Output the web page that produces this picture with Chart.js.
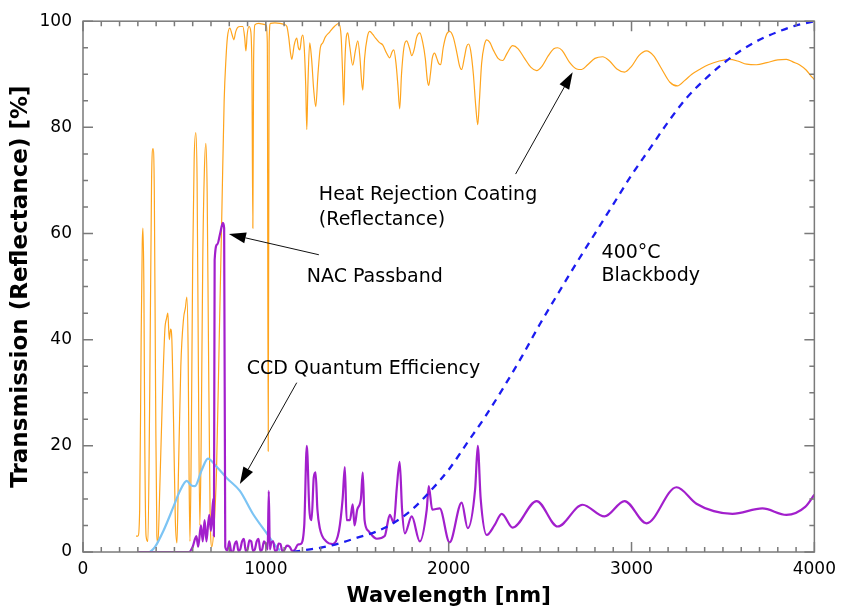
<!DOCTYPE html>
<html>
<head>
<meta charset="utf-8">
<script src="https://cdn.jsdelivr.net/npm/chart.js@4.4.1/dist/chart.umd.min.js"></script>
<style>
  html, body { margin: 0; padding: 0; background: #fff; }
  canvas { display: block; }
</style>
</head>
<body>
<canvas id="chart" width="843" height="614"></canvas>
<script>
// Axes
const xTicks = [0, 1000, 2000, 3000, 4000];
const yTicks = [0, 20, 40, 60, 80, 100];

// Heat rejection coating reflectance [nm, %]
const coating = [
  [290, 3], [300, 3], [310, 8], [318, 40], [324, 58], [328, 61], [333, 50], [338, 20], [345, 3],
  [355, 2], [365, 30], [375, 70], [383, 76], [390, 68], [397, 30], [404, 3], [410, 1.7],
  [420, 12], [435, 30], [448, 42], [457, 44], [464, 45], [472, 40], [479, 42], [486, 40],
  [495, 25], [505, 6], [514, 1.7], [522, 15], [535, 35], [550, 44], [560, 46], [568, 48],
  [575, 38], [580, 15], [585, 2], [592, 20], [600, 55], [608, 74], [617, 79], [624, 70],
  [631, 35], [639, 5], [646, 20], [655, 55], [664, 72], [672, 77], [679, 68], [686, 40],
  [695, 8], [705, 1], [715, 4], [730, 15], [745, 40], [760, 65], [772, 85], [782, 93],
  [790, 97], [803, 98.7], [815, 97.5], [825, 96.5], [835, 98], [845, 98.8], [860, 99],
  [874, 99], [884, 97], [891, 94.4], [898, 97.5], [908, 99], [918, 98], [924, 90], [929, 61],
  [933, 92], [940, 99.3], [960, 99.6], [978, 99.5], [1000, 99.3], [1008, 96], [1013, 19],
  [1018, 96], [1025, 99.6], [1050, 99.7], [1077, 99.6], [1100, 99.4], [1115, 99], [1125, 97],
  [1135, 94], [1142, 92.8], [1155, 95.5], [1169, 96.8], [1178, 95], [1186, 94.6], [1195, 96.8],
  [1202, 97.4], [1210, 95], [1218, 88], [1224, 79.6], [1230, 88], [1240, 95.9], [1250, 93],
  [1262, 87], [1273, 83.9], [1285, 90], [1298, 95], [1311, 95.9], [1325, 97], [1350, 98],
  [1375, 99], [1399, 99.6], [1412, 97], [1420, 90], [1426, 84.2], [1432, 92], [1440, 97],
  [1448, 97.8], [1460, 95], [1475, 91.7], [1490, 94.5], [1503, 96.3], [1515, 93], [1523, 89],
  [1530, 87], [1540, 93], [1555, 97], [1568, 98.1], [1585, 97.5], [1600, 96.8], [1620, 96],
  [1640, 95.5], [1660, 94], [1678, 93.1], [1690, 94.2], [1700, 94.6], [1712, 92], [1722, 88],
  [1732, 83.5], [1742, 90], [1755, 95], [1770, 96.3], [1785, 95], [1798, 93.5], [1810, 94.5],
  [1825, 97], [1842, 97.8], [1858, 96], [1872, 93], [1883, 89], [1891, 87.9], [1900, 90],
  [1910, 93], [1923, 94], [1935, 93], [1946, 92], [1956, 91.8], [1970, 95], [1988, 97.5],
  [2005, 98.1], [2025, 97], [2045, 94], [2060, 91.5], [2071, 90.9], [2085, 93], [2098, 95.2],
  [2109, 95.7], [2120, 94.5], [2135, 90], [2148, 84], [2159, 80.5], [2168, 85], [2180, 92],
  [2195, 95.5], [2208, 96.5], [2225, 96], [2245, 94.5], [2270, 93], [2295, 92.6], [2320, 94],
  [2350, 95.4], [2380, 94.8], [2415, 93], [2450, 91.3], [2481, 90.7], [2510, 91.5], [2545, 93.5],
  [2575, 94.8], [2596, 95], [2620, 94.5], [2660, 92.3], [2700, 91], [2727, 90.9], [2760, 91.8],
  [2800, 93], [2842, 93.3], [2880, 92.5], [2920, 91], [2962, 90.4], [3000, 91.5], [3040, 93.5],
  [3082, 94.4], [3120, 93.5], [3165, 91], [3210, 88.5], [3251, 87.8], [3290, 88.8], [3330, 90],
  [3372, 90.9], [3420, 91.8], [3480, 92.5], [3536, 92.8], [3580, 92.5], [3630, 91.9], [3683, 91.8],
  [3740, 92.2], [3800, 92.7], [3847, 92.8], [3885, 92.3], [3918, 91.8], [3955, 90.8], [3989, 89.4],
  [4000, 89]
];

// NAC passband transmission [nm, %]
const passband = [
  [300, 0], [580, 0], [600, 1], [620, 3], [630, 1], [645, 5], [655, 2], [665, 6], [675, 2],
  [690, 7], [700, 4], [712, 10], [716, 3], [720, 55], [735, 58], [750, 60], [765, 62], [772, 61],
  [778, 1], [790, 0.3], [800, 2], [810, 0.2], [820, 0], [830, 1.5], [840, 2], [850, 0.2],
  [860, 0.5], [870, 2], [880, 2.5], [890, 0.2], [900, 0.5], [910, 2.2], [920, 2], [930, 0.2],
  [940, 0.5], [950, 2], [960, 2.5], [970, 0.2], [980, 0.5], [990, 2], [1000, 1.5], [1010, 0.5],
  [1016, 11.5], [1022, 0.5], [1030, 1.8], [1040, 2], [1050, 0.2], [1060, 0.3], [1070, 1.6],
  [1080, 1.5], [1090, 0.2], [1100, 0.3], [1115, 1.2], [1130, 1], [1145, 0.2], [1160, 0.5],
  [1175, 1.4], [1190, 1.5], [1210, 5], [1224, 20], [1238, 8], [1250, 6], [1262, 14], [1272, 15],
  [1282, 8], [1295, 4.5], [1330, 2], [1366, 1.5], [1400, 4], [1420, 10], [1432, 16], [1442, 6],
  [1460, 6], [1475, 9], [1485, 5], [1500, 8], [1520, 10], [1530, 15], [1540, 6], [1560, 4],
  [1607, 2.5], [1650, 3], [1678, 7], [1700, 5.5], [1716, 12], [1732, 17], [1745, 8], [1760, 3.5],
  [1798, 6.7], [1842, 2], [1880, 8], [1891, 12.4], [1910, 8], [1951, 8.2], [2005, 1.8],
  [2071, 9.3], [2104, 4.5], [2145, 12], [2159, 20], [2175, 10], [2208, 3.2], [2250, 5],
  [2290, 7.2], [2350, 4.6], [2481, 9.6], [2596, 4.8], [2732, 8.9], [2852, 6.7], [2962, 9.6],
  [3082, 5.4], [3246, 12.2], [3355, 9.1], [3450, 7.7], [3552, 7.2], [3716, 8.2], [3847, 7],
  [3950, 8.5], [4000, 10.8]
];

// CCD quantum efficiency [nm, %]
const ccd = [
  [366, 0], [393, 0.9], [440, 4], [492, 8.3], [530, 11.5], [568, 13.4], [590, 12.6], [612, 12.4],
  [650, 15.5], [683, 17.6], [732, 16], [787, 13.9], [858, 11.5], [929, 7.2], [1005, 3.5],
  [1060, 0.9], [1077, 0.3]
];

// 400 °C blackbody, normalised [nm, %]
const blackbody = [
  [1150, 0], [1200, 0.3], [1300, 0.8], [1400, 1.6], [1500, 2.7], [1600, 3.8], [1700, 5.5],
  [1800, 8], [1900, 11.5], [2000, 15.5], [2100, 20.5], [2200, 25.5], [2300, 31], [2400, 36.8],
  [2500, 43], [2600, 48.8], [2700, 54.5], [2800, 60], [2900, 65.5], [3000, 71], [3100, 76],
  [3200, 81], [3300, 85.5], [3400, 89], [3500, 92], [3600, 94.5], [3700, 96.5], [3800, 98],
  [3900, 99.2], [4000, 100]
];

// Labels and arrows, in data units
const notes = [
  { text: "Heat Rejection Coating", nm: 1290, pct: 66.4 },
  { text: "(Reflectance)", nm: 1290, pct: 61.6 },
  { text: "NAC Passband", nm: 1224, pct: 50.8 },
  { text: "CCD Quantum Efficiency", nm: 896, pct: 33.6 },
  { text: "400°C", nm: 2836, pct: 55.3 },
  { text: "Blackbody", nm: 2836, pct: 51 }
];
const arrows = [
  { from: [2366, 71.2], to: [2678, 90.4] },
  { from: [1290, 56], to: [798, 59.9] },
  { from: [1169, 31.9], to: [858, 12.8] }
];

const toPoints = (rows) => rows.map(([x, y]) => ({ x, y }));

// Cadre + graduations vers l'intérieur sur les 4 côtés
const frameAndTicks = {
  id: "frameAndTicks",
  afterDatasetsDraw(chart) {
    const { ctx, chartArea: a, scales } = chart;
    ctx.save();
    ctx.strokeStyle = "#7a7a7a";
    ctx.lineWidth = 1.5;
    ctx.beginPath();
    for (let v = 0; v <= 4000; v += 100) {
      const px = scales.x.getPixelForValue(v);
      const len = v % 1000 === 0 ? 10 : 5;
      ctx.moveTo(px, a.bottom);
      ctx.lineTo(px, a.bottom - len);
      ctx.moveTo(px, a.top);
      ctx.lineTo(px, a.top + len);
    }
    for (let v = 0; v <= 100; v += 5) {
      const py = scales.y.getPixelForValue(v);
      const len = v % 20 === 0 ? 10 : 5;
      ctx.moveTo(a.left, py);
      ctx.lineTo(a.left + len, py);
      ctx.moveTo(a.right, py);
      ctx.lineTo(a.right - len, py);
    }
    ctx.stroke();
    ctx.strokeRect(a.left, a.top, a.right - a.left, a.bottom - a.top);
    ctx.restore();
  }
};

// Textes et flèches
const annotations = {
  id: "annotations",
  afterDraw(chart) {
    const { ctx, scales } = chart;
    const px = (nm) => scales.x.getPixelForValue(nm);
    const py = (pct) => scales.y.getPixelForValue(pct);
    ctx.save();
    ctx.fillStyle = "#000";
    ctx.font = "19px 'DejaVu Sans'";
    ctx.textBaseline = "alphabetic";
    notes.forEach((n) => ctx.fillText(n.text, px(n.nm), py(n.pct)));

    ctx.strokeStyle = "#111";
    ctx.lineWidth = 1;
    arrows.forEach((ar) => {
      const x1 = px(ar.from[0]), y1 = py(ar.from[1]);
      const x2 = px(ar.to[0]), y2 = py(ar.to[1]);
      const ang = Math.atan2(y2 - y1, x2 - x1);
      const head = 17, half = 5.5;
      const bx = x2 - head * Math.cos(ang), by = y2 - head * Math.sin(ang);
      ctx.beginPath();
      ctx.moveTo(x1, y1);
      ctx.lineTo(bx, by);
      ctx.stroke();
      ctx.beginPath();
      ctx.moveTo(x2, y2);
      ctx.lineTo(bx + half * Math.sin(ang), by - half * Math.cos(ang));
      ctx.lineTo(bx - half * Math.sin(ang), by + half * Math.cos(ang));
      ctx.closePath();
      ctx.fill();
    });
    ctx.restore();
  }
};

new Chart(document.getElementById("chart"), {
  type: "line",
  data: {
    datasets: [
      {
        label: "400°C Blackbody",
        data: toPoints(blackbody),
        borderColor: "#1c1cf0",
        borderWidth: 2.3,
        borderDash: [7, 6],
        cubicInterpolationMode: "monotone",
        order: 1
      },
      {
        label: "NAC Passband",
        data: toPoints(passband),
        borderColor: "#a21fcc",
        borderWidth: 2.2,
        cubicInterpolationMode: "monotone",
        order: 2
      },
      {
        label: "CCD Quantum Efficiency",
        data: toPoints(ccd),
        borderColor: "#7cc4f4",
        borderWidth: 2.2,
        cubicInterpolationMode: "monotone",
        order: 3
      },
      {
        label: "Heat Rejection Coating (Reflectance)",
        data: toPoints(coating),
        borderColor: "#ffa41c",
        borderWidth: 1.2,
        cubicInterpolationMode: "monotone",
        order: 4
      }
    ]
  },
  options: {
    responsive: false,
    animation: false,
    events: [],
    layout: { padding: { top: 13, right: 28, left: 0, bottom: 0 } },
    elements: { point: { radius: 0 } },
    plugins: {
      legend: { display: false },
      tooltip: { enabled: false }
    },
    scales: {
      x: {
        type: "linear",
        min: 0,
        max: 4000,
        afterBuildTicks: (s) => { s.ticks = xTicks.map((v) => ({ value: v })); },
        afterFit: (s) => { s.height = 62; },
        grid: { display: false, drawTicks: false },
        border: { display: false },
        ticks: {
          color: "#000",
          padding: 7,
          maxRotation: 0,
          callback: (v) => String(v),
          font: { family: "DejaVu Sans", size: 17 }
        },
        title: {
          display: true,
          text: "Wavelength [nm]",
          color: "#000",
          padding: { top: 0, bottom: 5 },
          font: { family: "DejaVu Sans", size: 21, weight: "bold" }
        }
      },
      y: {
        min: 0,
        max: 100,
        afterBuildTicks: (s) => { s.ticks = yTicks.map((v) => ({ value: v })); },
        afterFit: (s) => { s.width = 83; },
        grid: { display: false, drawTicks: false },
        border: { display: false },
        ticks: {
          color: "#000",
          padding: 11,
          callback: (v) => String(v),
          font: { family: "DejaVu Sans", size: 17 }
        },
        title: {
          display: true,
          text: "Transmission (Reflectance) [%]",
          color: "#000",
          padding: { top: 7, bottom: 0 },
          font: { family: "DejaVu Sans", size: 23, weight: "bold" }
        }
      }
    }
  },
  plugins: [frameAndTicks, annotations]
});
</script>
</body>
</html>
